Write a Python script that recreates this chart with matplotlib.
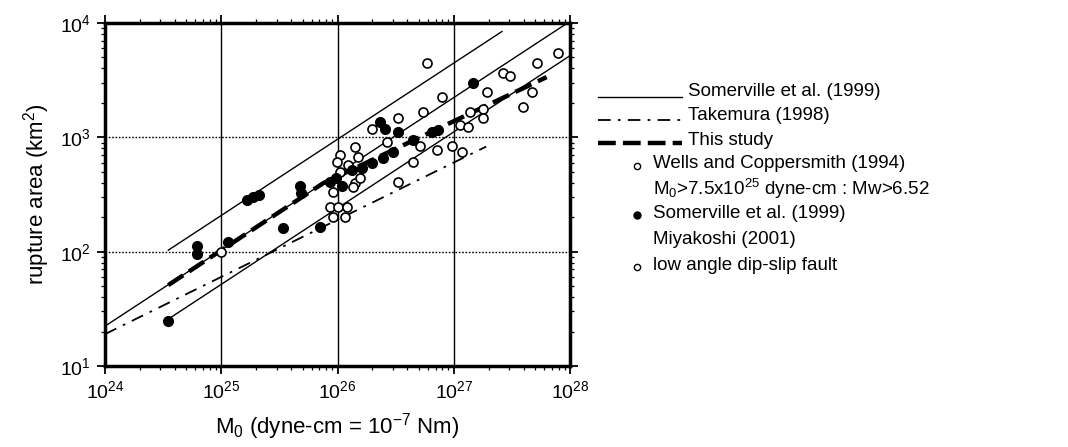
import matplotlib
matplotlib.use("Agg")
import matplotlib.pyplot as plt
from matplotlib.lines import Line2D
from matplotlib.ticker import LogLocator, NullFormatter

plt.rcParams['font.family'] = ['Liberation Sans', 'DejaVu Sans']
plt.rcParams['mathtext.fontset'] = 'custom'
plt.rcParams['mathtext.rm'] = 'Liberation Sans'
plt.rcParams['mathtext.it'] = 'Liberation Sans:italic'
plt.rcParams['mathtext.bf'] = 'Liberation Sans:bold'

# ---------------- data ----------------
somerville_M0 = [1.0e24, 9.5e27]
somerville_S = [22.3, 9990]
somerville_hi_M0 = [3.5e24, 2.6e27]
somerville_hi_S = [103, 8430]
somerville_lo_M0 = [3.6e24, 1.0e28]
somerville_lo_S = [26.2, 5175]
takemura_M0 = [1.0e24, 1.9e27]
takemura_S = [19, 830]
thisstudy_M0 = [3.5e24, 7.5e25, 6.3e27]
thisstudy_S = [51, 396, 3366]

# Wells and Coppersmith (1994) / low angle dip-slip faults (open circles)
wells_M0 = [1.0e25, 1.05e26, 1.23e26, 1.05e26, 1.41e26, 9.1e25, 8.6e25, 1.01e26,
            1.2e26, 9.1e25, 1.16e26, 1.41e26, 1.5e26, 1.56e26, 1.35e26, 2.0e26,
            2.66e26, 3.3e26, 5.4e26, 3.3e26, 4.45e26, 5.1e26, 7.2e26, 9.6e26,
            1.17e27, 5.9e26, 7.9e26, 2.64e27, 3.03e27, 5.2e27, 7.86e27, 1.93e27,
            4.7e27, 3.93e27, 1.37e27, 1.78e27, 1.8e27, 1.13e27, 1.32e27, 9.9e25]
wells_S = [100, 700, 572, 496, 398, 332, 245, 245,
           245, 201, 201, 822, 673, 441, 367, 1183,
           910, 1475, 1665, 406, 608, 839, 774, 839,
           743, 4466, 2254, 3656, 3436, 4466, 5470, 2490,
           2490, 1841, 1665, 1770, 1475, 1281, 1231, 608]

# Somerville et al. (1999) / Miyakoshi (2001) (filled circles)
somer_M0 = [3.5e24, 6.2e24, 6.2e24, 1.14e25, 1.66e25, 1.87e25, 2.1e25, 4.8e25,
            4.9e25, 3.4e25, 7.1e25, 8.6e25, 9.7e25, 1.09e26, 1.33e26, 1.62e26,
            1.98e26, 2.46e26, 2.3e26, 2.56e26, 3.3e26, 3.0e26, 6.5e26, 7.3e26,
            4.5e26, 1.46e27]
somer_S = [25, 112, 95, 121, 283, 300, 313, 375,
           326, 161, 164, 406, 441, 375, 518, 539,
           596, 659, 1360, 1183, 1112, 743, 1112, 1158,
           946, 2986]

x_ticks = [1e24, 1e25, 1e26, 1e27, 1e28]
y_ticks = [1e1, 1e2, 1e3, 1e4]

legend_lines = ["Somerville et al. (1999)", "Takemura (1998)", "This study"]
legend_markers = ["Wells and Coppersmith (1994)",
                  "M$_0$>7.5x10$^{25}$ dyne-cm : Mw>6.52",
                  "Somerville et al. (1999)", "Miyakoshi (2001)",
                  "low angle dip-slip fault"]

# ---------------- figure ----------------
W, H = 1068, 447
fig = plt.figure(figsize=(W / 100, H / 100), dpi=100)
ax = fig.add_axes([105 / W, 1 - 366 / H, 465 / W, 343 / H])
ax.set_xscale('log')
ax.set_yscale('log')
ax.set_xlim(1e24, 1e28)
ax.set_ylim(1e1, 1e4)
ax.set_xticks(x_ticks)
ax.set_yticks(y_ticks)
ax.xaxis.set_minor_locator(LogLocator(base=10, subs=range(2, 10), numticks=50))
ax.yaxis.set_minor_locator(LogLocator(base=10, subs=range(2, 10), numticks=50))
ax.xaxis.set_minor_formatter(NullFormatter())
ax.yaxis.set_minor_formatter(NullFormatter())

ax.xaxis.grid(True, which='major', color='k', lw=1.0, ls='-')
ax.yaxis.grid(True, which='major', color='k', lw=1.0, ls=(0, (1.2, 1.2)))
ax.set_axisbelow(True)

for sp in ax.spines.values():
    sp.set_linewidth(2.5)
ax.tick_params(which='both', direction='out', top=True, right=True,
               labelsize=14, colors='k')
ax.tick_params(which='major', length=6, width=1.3, pad=4)
ax.tick_params(which='minor', length=3, width=0.9)

# lines
kw = dict(color='k', lw=1.0, zorder=3)
ax.plot(somerville_M0, somerville_S, ls='-', **kw)
ax.plot(somerville_hi_M0, somerville_hi_S, ls='-', **kw)
ax.plot(somerville_lo_M0, somerville_lo_S, ls='-', **kw)
ax.plot(takemura_M0, takemura_S, color='k', lw=1.3,
        ls=(0, (7, 4, 1.5, 4)), zorder=3)
ax.plot(thisstudy_M0, thisstudy_S, color='k', lw=3.2,
        ls=(0, (4, 1.6)), zorder=4)

# points
ax.plot(wells_M0, wells_S, 'o', ms=6.5, mfc='white', mec='k', mew=1.2,
        ls='none', zorder=5)
ax.plot(somer_M0, somer_S, 'o', ms=7, mfc='k', mec='k', mew=1.0,
        ls='none', zorder=6)

ax.set_ylabel("rupture area (km$^2$)", fontsize=16, labelpad=6)
ax.set_xlabel("M$_0$ (dyne-cm = 10$^{-7}$ Nm)", fontsize=16, labelpad=7)

# ---------------- manual legend ----------------
def fx(px):
    return px / W

def fy(py):
    return 1 - py / H

line_rows = [97, 120, 143]
text_rows = [92, 116, 140]
styles = [dict(ls='-', lw=1.0), dict(ls=(0, (7, 4, 1.5, 4)), lw=1.3),
          dict(ls=(0, (4, 1.6)), lw=3.2)]
for lab, ly, ty, st in zip(legend_lines, line_rows, text_rows, styles):
    fig.add_artist(Line2D([fx(598), fx(682)], [fy(ly), fy(ly)], color='k', **st))
    fig.text(fx(688), fy(ty), lab, fontsize=13.5, va='center', ha='left')

m_rows = [164, 189, 213, 240, 265]
for lab, ty in zip(legend_markers, m_rows):
    fig.text(fx(653), fy(ty), lab, fontsize=13.5, va='center', ha='left')
fig.add_artist(Line2D([fx(637)], [fy(166)], marker='o', ms=4.5, mfc='white',
                      mec='k', mew=1.0, ls='none'))
fig.add_artist(Line2D([fx(637)], [fy(215)], marker='o', ms=5, mfc='k',
                      mec='k', ls='none'))
fig.add_artist(Line2D([fx(637)], [fy(267)], marker='o', ms=4.5, mfc='white',
                      mec='k', mew=1.0, ls='none'))

fig.savefig("out.png", dpi=100)
